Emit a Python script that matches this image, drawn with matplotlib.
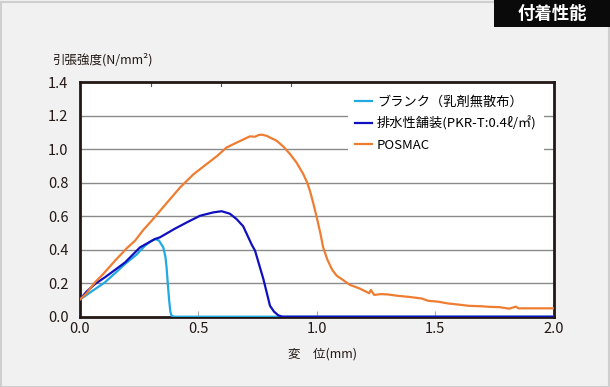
import matplotlib

matplotlib.use("Agg")
import matplotlib.pyplot as plt
from matplotlib.patches import Rectangle

plt.rcParams["font.family"] = ["Noto Sans CJK JP", "DejaVu Sans"]

# data
blank_x = [0, 0.04, 0.107, 0.15, 0.192, 0.24, 0.276, 0.30, 0.318, 0.335, 0.353,
           0.362, 0.367, 0.372, 0.378, 0.383, 0.388, 0.40, 0.5, 1.0, 2.0]
blank_y = [0.10, 0.14, 0.205, 0.26, 0.315, 0.37, 0.424, 0.45, 0.464, 0.455, 0.414,
           0.36, 0.295, 0.20, 0.096, 0.03, 0.006, 0.0, 0.0, 0.0, 0.0]

drain_x = [0, 0.03, 0.065, 0.107, 0.15, 0.192, 0.255, 0.318, 0.339, 0.40, 0.452,
           0.508, 0.564, 0.599, 0.634, 0.662, 0.69, 0.705, 0.726, 0.74, 0.775,
           0.803, 0.82, 0.838, 0.855, 1.0, 2.0]
drain_y = [0.10, 0.15, 0.195, 0.235, 0.28, 0.324, 0.414, 0.464, 0.474, 0.524, 0.563,
           0.603, 0.623, 0.63, 0.615, 0.583, 0.54, 0.494, 0.43, 0.394, 0.225,
           0.065, 0.03, 0.008, 0.0, 0.0, 0.0]

posmac_x = [0, 0.03, 0.065, 0.10, 0.15, 0.20, 0.234, 0.27, 0.304, 0.35, 0.424,
            0.48, 0.536, 0.58, 0.62, 0.67, 0.718, 0.74, 0.755, 0.768, 0.79, 0.81,
            0.831, 0.86, 0.887, 0.915, 0.943, 0.96, 0.971, 0.985, 1.0, 1.015,
            1.027, 1.045, 1.065, 1.084, 1.11, 1.14, 1.178, 1.20, 1.221, 1.228,
            1.242, 1.27, 1.299, 1.34, 1.385, 1.441, 1.47, 1.51, 1.554, 1.60,
            1.64, 1.70, 1.725, 1.77, 1.81, 1.84, 1.85, 1.88, 1.92, 2.0]
posmac_y = [0.10, 0.14, 0.205, 0.255, 0.335, 0.41, 0.454, 0.52, 0.573, 0.65, 0.772,
            0.85, 0.912, 0.96, 1.011, 1.045, 1.077, 1.075, 1.085, 1.087, 1.08, 1.065,
            1.051, 1.015, 0.972, 0.92, 0.852, 0.80, 0.753, 0.68, 0.593, 0.50,
            0.414, 0.34, 0.28, 0.245, 0.22, 0.19, 0.17, 0.155, 0.14, 0.16,
            0.13, 0.135, 0.133, 0.125, 0.119, 0.109, 0.095, 0.09, 0.079, 0.072,
            0.065, 0.062, 0.059, 0.057, 0.048, 0.06, 0.05, 0.05, 0.05, 0.05]

series_labels = ["ブランク（乳剤無散布）", "排水性舗装(PKR-T:0.4ℓ/㎡)", "POSMAC"]
series_colors = ["#21a9e1", "#1010c0", "#ef7d31"]
y_ticks = [0.0, 0.2, 0.4, 0.6, 0.8, 1.0, 1.2, 1.4]
x_ticks = [0.0, 0.5, 1.0, 1.5, 2.0]

W, H = 610, 387
fig = plt.figure(figsize=(W / 100, H / 100), dpi=100)
fig.patch.set_facecolor("#f1f1f1")
fig.patches.append(Rectangle((0.5 / W, 0.5 / H), 1 - 2 / W, 1 - 2 / H,
                             transform=fig.transFigure, fill=False,
                             edgecolor="#cfcfcf", linewidth=1.5))

# title tab
fig.patches.append(Rectangle((494 / W, 1 - 27 / H), 116 / W, 27 / H,
                             transform=fig.transFigure, facecolor="#0a0a0a",
                             edgecolor="none"))
fig.text(552 / W, 1 - 14 / H, "付着性能", color="white", fontsize=12.5,
         fontweight="bold", ha="center", va="center")

ax = fig.add_axes([79.5 / W, 1 - 316.7 / H, 474.5 / W, 234.4 / H])
ax.set_facecolor("white")
ax.set_xlim(0, 2.0)
ax.set_ylim(0, 1.4)

for y in y_ticks[1:-1]:
    ax.axhline(y, color="#8a8a8a", linewidth=1.0, zorder=1)

for xs, ys, lab, col in zip([blank_x, drain_x, posmac_x],
                            [blank_y, drain_y, posmac_y],
                            series_labels, series_colors):
    ax.plot(xs, ys, color=col, linewidth=1.6, label=lab, zorder=3,
            solid_joinstyle="round")

for s in ax.spines.values():
    s.set_color("#231815")
    s.set_linewidth(2.0)

ax.set_xticks(x_ticks)
ax.set_xticklabels([f"{v:.1f}" for v in x_ticks])
ax.set_yticks(y_ticks)
ax.set_yticklabels([f"{v:.1f}" for v in y_ticks])
ax.tick_params(axis="x", direction="in", length=4, labelsize=10.5, pad=4,
               labelcolor="#231815", color="#aaaaaa")
ax.tick_params(axis="y", length=0, labelsize=10.5, pad=8, labelcolor="#231815")

# small leftover ticks along the top edge
for xt in [0.3, 0.595, 0.89]:
    ax.plot([xt, xt], [1.4, 1.38], color="#555555", linewidth=0.8, zorder=2)

leg = ax.legend(loc="upper left", bbox_to_anchor=(0.566, 0.975),
                borderaxespad=0, frameon=True, fancybox=False, fontsize=9.5,
                handlelength=1.3, handletextpad=0.35, labelspacing=0.62,
                borderpad=0.55)
leg.get_frame().set_facecolor("white")
leg.get_frame().set_edgecolor("none")
leg.get_frame().set_alpha(1.0)

fig.text(52 / W, 1 - 60 / H, "引張強度(N/mm²)", fontsize=9, ha="left",
         va="center", color="#231815")
fig.text(323 / W, 1 - 354 / H, "変　位(mm)", fontsize=9, ha="center",
         va="center", color="#231815")

fig.savefig("out.png", dpi=100, facecolor=fig.get_facecolor())
